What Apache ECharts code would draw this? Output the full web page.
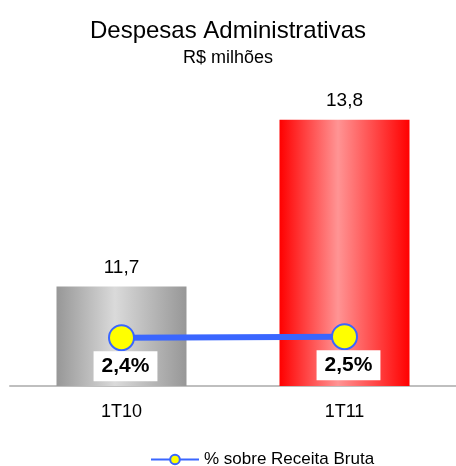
<html>
  <head>
    <meta charset="utf-8" />
    <script src="https://cdn.jsdelivr.net/npm/echarts@6.0.0/dist/echarts.min.js"></script>
    <style>
      body {
        height: 466px;
        width: 456px;
        margin: 0;
        background: #fff;
      }

      #main {
        height: 466px;
        width: 456px;
      }
    </style>
  </head>
  <body>
    <div id="main"></div>
    <script>
      const categories = ['1T10', '1T11'];
      const despesas = [11.7, 13.8];
      const percentual = [2.4, 2.5];

      const font = 'Liberation Sans, Arial, sans-serif';

      function barGradient(edge, middle) {
        return new echarts.graphic.LinearGradient(0, 0, 1, 0, [
          { offset: 0, color: edge },
          { offset: 0.45, color: middle },
          { offset: 1, color: edge },
        ]);
      }

      const barColors = [
        barGradient('#979797', '#dadada'),
        barGradient('#ff0000', '#ff9494'),
      ];

      var myChart = echarts.init(document.querySelector('#main'));

      myChart.setOption({
        animation: false,
        title: {
          text: 'Despesas Administrativas',
          subtext: 'R$ milhões',
          left: 'center',
          top: 14,
          itemGap: 6,
          textStyle: {
            fontFamily: font,
            fontWeight: 'normal',
            fontSize: 24,
            color: '#000',
          },
          subtextStyle: {
            fontFamily: font,
            fontSize: 18,
            color: '#000',
          },
        },
        legend: {
          bottom: -7,
          left: 145,
          itemWidth: 48,
          itemHeight: 12,
          textStyle: { fontFamily: font, fontSize: 17, color: '#000' },
          data: ['% sobre Receita Bruta'],
        },
        grid: {
          left: 10,
          right: 0,
          top: 64,
          bottom: 80,
        },
        xAxis: {
          type: 'category',
          data: categories,
          axisLine: { onZero: false, lineStyle: { color: '#bfbfbf', width: 2 } },
          axisTick: { length: 5, lineStyle: { color: '#bfbfbf', width: 2 } },
          axisLabel: {
            margin: 17,
            fontFamily: font,
            fontSize: 18,
            color: '#000',
          },
        },
        yAxis: [
          { type: 'value', min: 10.45, max: 14.5, show: false },
          { type: 'value', min: -2.4, max: 29.6, show: false },
        ],
        series: [
          {
            name: 'Despesas',
            type: 'bar',
            barWidth: 130,
            data: despesas.map((v, i) => ({
              value: v,
              itemStyle: { color: barColors[i] },
            })),
            label: {
              show: true,
              position: 'top',
              distance: 9,
              fontFamily: font,
              fontSize: 19,
              color: '#000',
              formatter: (p) => p.value.toFixed(1).replace('.', ','),
            },
          },
          {
            name: '% sobre Receita Bruta',
            type: 'line',
            yAxisIndex: 1,
            data: percentual,
            symbol: 'circle',
            symbolSize: 25,
            lineStyle: { color: '#3a66ff', width: 6 },
            itemStyle: { color: '#ffff00', borderColor: '#3a66ff', borderWidth: 2 },
            label: {
              show: true,
              position: 'bottom',
              distance: 0,
              offset: [4, 0],
              backgroundColor: '#fff',
              padding: [5, 8, 4, 8],
              fontFamily: font,
              fontWeight: 'bold',
              fontSize: 21,
              color: '#000',
              formatter: (p) => p.value.toFixed(1).replace('.', ',') + '%',
            },
          },
        ],
      });
    </script>
  </body>
</html>
